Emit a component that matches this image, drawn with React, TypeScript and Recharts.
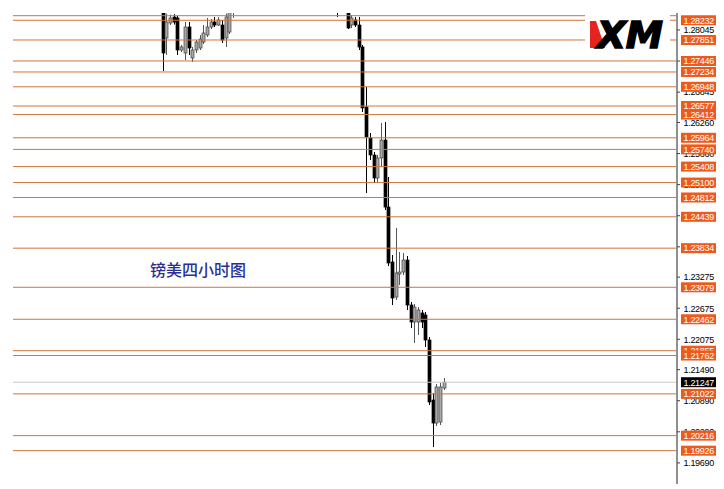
import React from 'react';
import { ComposedChart, Bar, XAxis, YAxis, ReferenceLine } from 'recharts';

const chartTitle = '镑美四小时图';
const brandName = 'XM';

// [bar index, open, high, low, close]
const candles: [number, number, number, number, number][] = [
  [0, 1.2842, 1.2846, 1.27253, 1.276],
  [1, 1.2789, 1.2836, 1.27562, 1.28198],
  [2, 1.28179, 1.2834, 1.2814, 1.28276],
  [3, 1.28295, 1.2835, 1.2815, 1.28198],
  [4, 1.28276, 1.2832, 1.27562, 1.27658],
  [5, 1.27658, 1.27755, 1.27619, 1.27716],
  [6, 1.276, 1.28198, 1.27465, 1.28102],
  [7, 1.28102, 1.28198, 1.27562, 1.27697],
  [8, 1.27504, 1.27716, 1.27426, 1.27658],
  [9, 1.27658, 1.27851, 1.276, 1.27812],
  [10, 1.27697, 1.27947, 1.27658, 1.2787],
  [11, 1.27812, 1.2814, 1.27774, 1.27986],
  [12, 1.27947, 1.28276, 1.27909, 1.28102],
  [13, 1.28102, 1.28256, 1.28063, 1.28198],
  [14, 1.28198, 1.28295, 1.28102, 1.2814],
  [15, 1.2814, 1.28295, 1.28121, 1.28237],
  [16, 1.2814, 1.28237, 1.27793, 1.27851],
  [17, 1.2789, 1.2836, 1.27716, 1.28295],
  [18, 1.28005, 1.285, 1.27967, 1.2842],
  [19, 1.284, 1.2852, 1.28276, 1.2845],
  [47, 1.284, 1.2845, 1.28295, 1.2838],
  [50, 1.284, 1.2845, 1.28063, 1.28083],
  [51, 1.2814, 1.28333, 1.28083, 1.28276],
  [52, 1.28237, 1.28295, 1.28102, 1.2814],
  [53, 1.2814, 1.28295, 1.27658, 1.27716],
  [54, 1.27716, 1.27755, 1.26462, 1.26539],
  [55, 1.26558, 1.26944, 1.24898, 1.25979],
  [56, 1.2596, 1.26056, 1.25535, 1.25632],
  [57, 1.25632, 1.2569, 1.25091, 1.25188],
  [58, 1.25188, 1.25632, 1.25091, 1.25574],
  [59, 1.25574, 1.26249, 1.254, 1.25921],
  [60, 1.25921, 1.26269, 1.2457, 1.24628],
  [61, 1.24628, 1.25207, 1.2349, 1.23548],
  [62, 1.23567, 1.23702, 1.22737, 1.22872],
  [63, 1.22891, 1.24223, 1.22834, 1.23355],
  [64, 1.23335, 1.2376, 1.23123, 1.23374],
  [65, 1.23374, 1.23741, 1.23316, 1.23605],
  [66, 1.23605, 1.23683, 1.22641, 1.22737],
  [67, 1.22737, 1.22795, 1.22293, 1.22409],
  [68, 1.22409, 1.22756, 1.22004, 1.22698],
  [69, 1.22409, 1.22698, 1.22158, 1.22641],
  [70, 1.22583, 1.22641, 1.22293, 1.22409],
  [71, 1.22544, 1.22602, 1.21926, 1.22062],
  [72, 1.22062, 1.22119, 1.20807, 1.20865],
  [73, 1.20904, 1.21039, 1.19997, 1.2046],
  [74, 1.2046, 1.21212, 1.20402, 1.21155],
  [75, 1.20479, 1.21232, 1.20421, 1.21155],
  [76, 1.21135, 1.21328, 1.21097, 1.21247],
];

const priceLevels = [
  1.28232, 1.27851, 1.27446, 1.27234, 1.26948, 1.26577, 1.26412, 1.25964, 1.2574,
  1.25408, 1.251, 1.24812, 1.24439, 1.23834, 1.23079, 1.22462, 1.21855, 1.21762,
  1.21022, 1.20216, 1.19926,
];
const unlabeledLevels = [1.2832];
const axisTicks = [
  1.28045, 1.27445, 1.26845, 1.2626, 1.2566, 1.2506, 1.2446, 1.2386, 1.23275,
  1.22675, 1.22075, 1.2149, 1.2089, 1.2029, 1.1969,
];
const currentPrice = 1.21247;
const priceDomain: [number, number] = [1.19283, 1.28372];
const barDomain: [number, number] = [-40.54, 138.92];

const data = candles.map(([i, open, high, low, close]) => ({
  i, open, high, low, close, range: [low, high],
}));

const LEVEL_LINE = '#cf763c';
const LEVEL_BOX = '#ec5b1d';
const FONT = '"Liberation Sans", Arial, sans-serif';

const Candle = (props: any) => {
  const { x, y, width, height, payload } = props;
  if (!payload || x == null || y == null) return null;
  const { open, close, high, low } = payload;
  const h = Math.abs(height);
  const top = height < 0 ? y + height : y;
  const ratio = high - low > 0 ? h / (high - low) : 0;
  const cx = Math.round(x + width / 2) + 0.5;
  const yOpen = top + (high - open) * ratio;
  const yClose = top + (high - close) * ratio;
  const bull = close >= open;
  const bodyTop = Math.min(yOpen, yClose);
  const bodyH = Math.max(1, Math.abs(yOpen - yClose));
  return (
    <g>
      <line x1={cx} x2={cx} y1={top} y2={top + h} stroke={bull ? '#555' : '#000'} strokeWidth={1} />
      <rect
        x={cx - 1.5}
        y={bodyTop}
        width={3}
        height={bodyH}
        fill={bull ? '#a8a8a8' : '#000'}
        stroke={bull ? '#444' : '#000'}
        strokeWidth={0.7}
      />
    </g>
  );
};

const levelSet = new Set(priceLevels);

const PriceTick = (props: any) => {
  const { x, y, payload } = props;
  const v = payload.value as number;
  const label = v.toFixed(5);
  const isLevel = levelSet.has(v);
  const isCurrent = v === currentPrice;
  if (isLevel || isCurrent) {
    return (
      <g>
        <rect x={x + 1} y={y - 5} width={35} height={10} fill={isCurrent ? '#000' : LEVEL_BOX} />
        <text x={x + 3.5} y={y + 3.3} fill="#fff" fontSize={9} letterSpacing={-0.3} fontFamily={FONT}>
          {label}
        </text>
      </g>
    );
  }
  return (
    <g>
      <line x1={x - 3} x2={x} y1={y} y2={y} stroke="#444" />
      <text x={x + 3.5} y={y + 3.3} fill="#000" fontSize={9} letterSpacing={-0.3} fontFamily={FONT}>
        {label}
      </text>
    </g>
  );
};

export default function App() {
  return (
    <div style={{ position: 'absolute', left: 0, top: 0, width: 724, height: 489, background: '#fff' }}>
      <ComposedChart
        width={724}
        height={489}
        data={data}
        margin={{ top: 13, right: 0, bottom: 5, left: 13 }}
      >
        <XAxis dataKey="i" type="number" domain={barDomain} allowDataOverflow hide />
        <YAxis
          orientation="right"
          width={47}
          type="number"
          domain={priceDomain}
          allowDataOverflow
          ticks={[...axisTicks, ...priceLevels, currentPrice]}
          interval={0}
          tickSize={3}
          tickMargin={0}
          tickLine={false}
          axisLine={{ stroke: '#909090', strokeWidth: 2 }}
          tick={<PriceTick />}
          isAnimationActive={false}
        />
        {unlabeledLevels.map((v) => (
          <ReferenceLine key={'u' + v} y={v} stroke={LEVEL_LINE} strokeWidth={1} ifOverflow="hidden" />
        ))}
        {priceLevels.map((v) => (
          <ReferenceLine key={'l' + v} y={v} stroke={LEVEL_LINE} strokeWidth={1} />
        ))}
        <ReferenceLine y={currentPrice} stroke="#c8c8c8" strokeWidth={1} />
        <Bar dataKey="range" barSize={3} shape={<Candle />} isAnimationActive={false} />
      </ComposedChart>
      <svg
        width={724}
        height={489}
        style={{ position: 'absolute', left: 0, top: 0, pointerEvents: 'none' }}
      >
        <text
          x={150}
          y={276}
          fontSize={16}
          fontWeight={500}
          fill="#2a3196"
          fontFamily={'"Noto Sans CJK SC", sans-serif'}
        >
          {chartTitle}
        </text>
        <rect x={585} y={13} width={85} height={44} fill="#fff" />
        <polygon points="590,21 596,21 605,48 590,48" fill="#e52421" />
        <text
          x={597}
          y={48}
          fontSize={38}
          fontWeight="bold"
          fontStyle="italic"
          fill="#000"
          stroke="#000"
          strokeWidth={1.6}
          textLength={66}
          lengthAdjust="spacingAndGlyphs"
          fontFamily={'"DejaVu Sans", sans-serif'}
        >
          {brandName}
        </text>
      </svg>
    </div>
  );
}
